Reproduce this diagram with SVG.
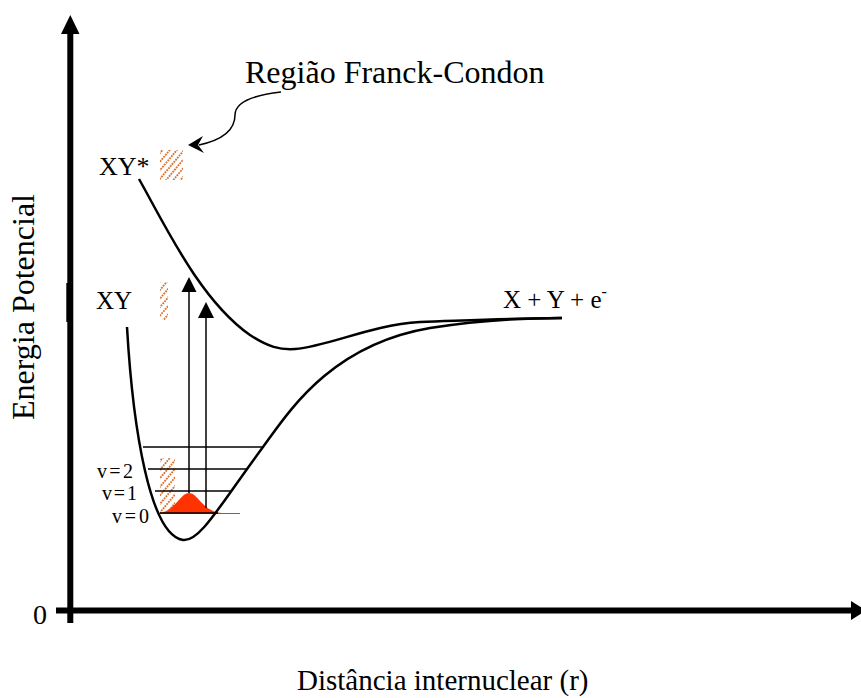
<svg xmlns="http://www.w3.org/2000/svg" width="861" height="698" viewBox="0 0 861 698">
<style>
text{font-family:"Liberation Serif","Times New Roman",serif;fill:#000}
.crv{fill:none;stroke:#000;stroke-width:2.5}
.lvl{stroke:#000;stroke-width:1.5}
.ar{stroke:#000;stroke-width:1.5}
</style>
<defs>
<pattern id="hatch" width="5.5" height="5.5" patternUnits="userSpaceOnUse" patternTransform="rotate(40)">
<line x1="1" y1="0" x2="1" y2="5.5" stroke="#D9661F" stroke-width="1.7" stroke-dasharray="1.8 1"/>
</pattern>
</defs>
<rect width="861" height="698" fill="#fff"/>
<g id="axes">
<line x1="70.3" y1="623" x2="70.3" y2="32" stroke="#000" stroke-width="6"/>
<polygon points="70.3,15 61,34 79.5,34" fill="#000"/>
<rect x="66.3" y="283" width="6" height="39" fill="#000"/>
<line x1="56" y1="610.5" x2="853" y2="610.5" stroke="#000" stroke-width="6"/>
<polygon points="851,601 866,610.5 851,620" fill="#000"/>
<text x="33" y="624" font-size="28">0</text>
<text x="297" y="690" font-size="29">Distância internuclear (r)</text>
<text transform="translate(34,307) rotate(-90)" text-anchor="middle" font-size="32">Energia Potencial</text>
</g>
<g id="hatches">
<rect x="160" y="150" width="23" height="30" fill="url(#hatch)"/>
<rect x="160" y="282" width="8" height="38" fill="url(#hatch)"/>
<rect x="160" y="458" width="15" height="55" fill="url(#hatch)"/>
</g>
<g id="wavefunction">
<path d="M158,513 C174,513 180,493 189,493 C198,493 203,512 222,513 L240,513 L240,514 L158,514 Z" fill="#FF3300"/>
</g>
<g id="levels">
<line class="lvl" x1="143" y1="447" x2="263" y2="447"/>
<line class="lvl" x1="148" y1="469" x2="247" y2="469"/>
<line class="lvl" x1="155" y1="491" x2="232" y2="491"/>
<line class="lvl" x1="160" y1="513" x2="218" y2="513"/>
</g>
<g id="curves">
<path id="ground" class="crv" d="M127,327 C133,430 150,535 183,540 C200,542 220,505 263,447 C288,413 330,345 430,328 C480,320 530,318 562,318"/>
<path id="excited" class="crv" d="M139,179 C165,225 200,300 250,335 C268,347 280,350 295,349 C330,346 370,325 420,322 C480,320 530,318 562,318"/>
</g>
<g id="connectors">
<line class="ar" x1="189" y1="493" x2="189" y2="288"/>
<polygon points="189,277 181.5,292 196.5,292" fill="#000"/>
<line class="ar" x1="206" y1="508" x2="206" y2="314"/>
<polygon points="206,302 198,318 214,318" fill="#000"/>
<path d="M281,92 C255,95 235,102 235,115 C235,130 222,140 199,145" fill="none" stroke="#000" stroke-width="1.5"/>
<polygon points="188,145 203,136 198,145 204,153" fill="#000"/>
</g>
<g id="labels">
<text x="245" y="83" font-size="32">Região Franck-Condon</text>
<text x="99" y="175" font-size="26">XY*</text>
<text x="96" y="309" font-size="25">XY</text>
<text x="503" y="308" font-size="25">X + Y + e<tspan dy="-11" font-size="16">-</tspan></text>
<text x="97" y="478" font-size="20" textLength="36">v=2</text>
<text x="102" y="500" font-size="20" textLength="35">v=1</text>
<text x="112" y="523" font-size="20" textLength="37">v=0</text>
</g>
</svg>
